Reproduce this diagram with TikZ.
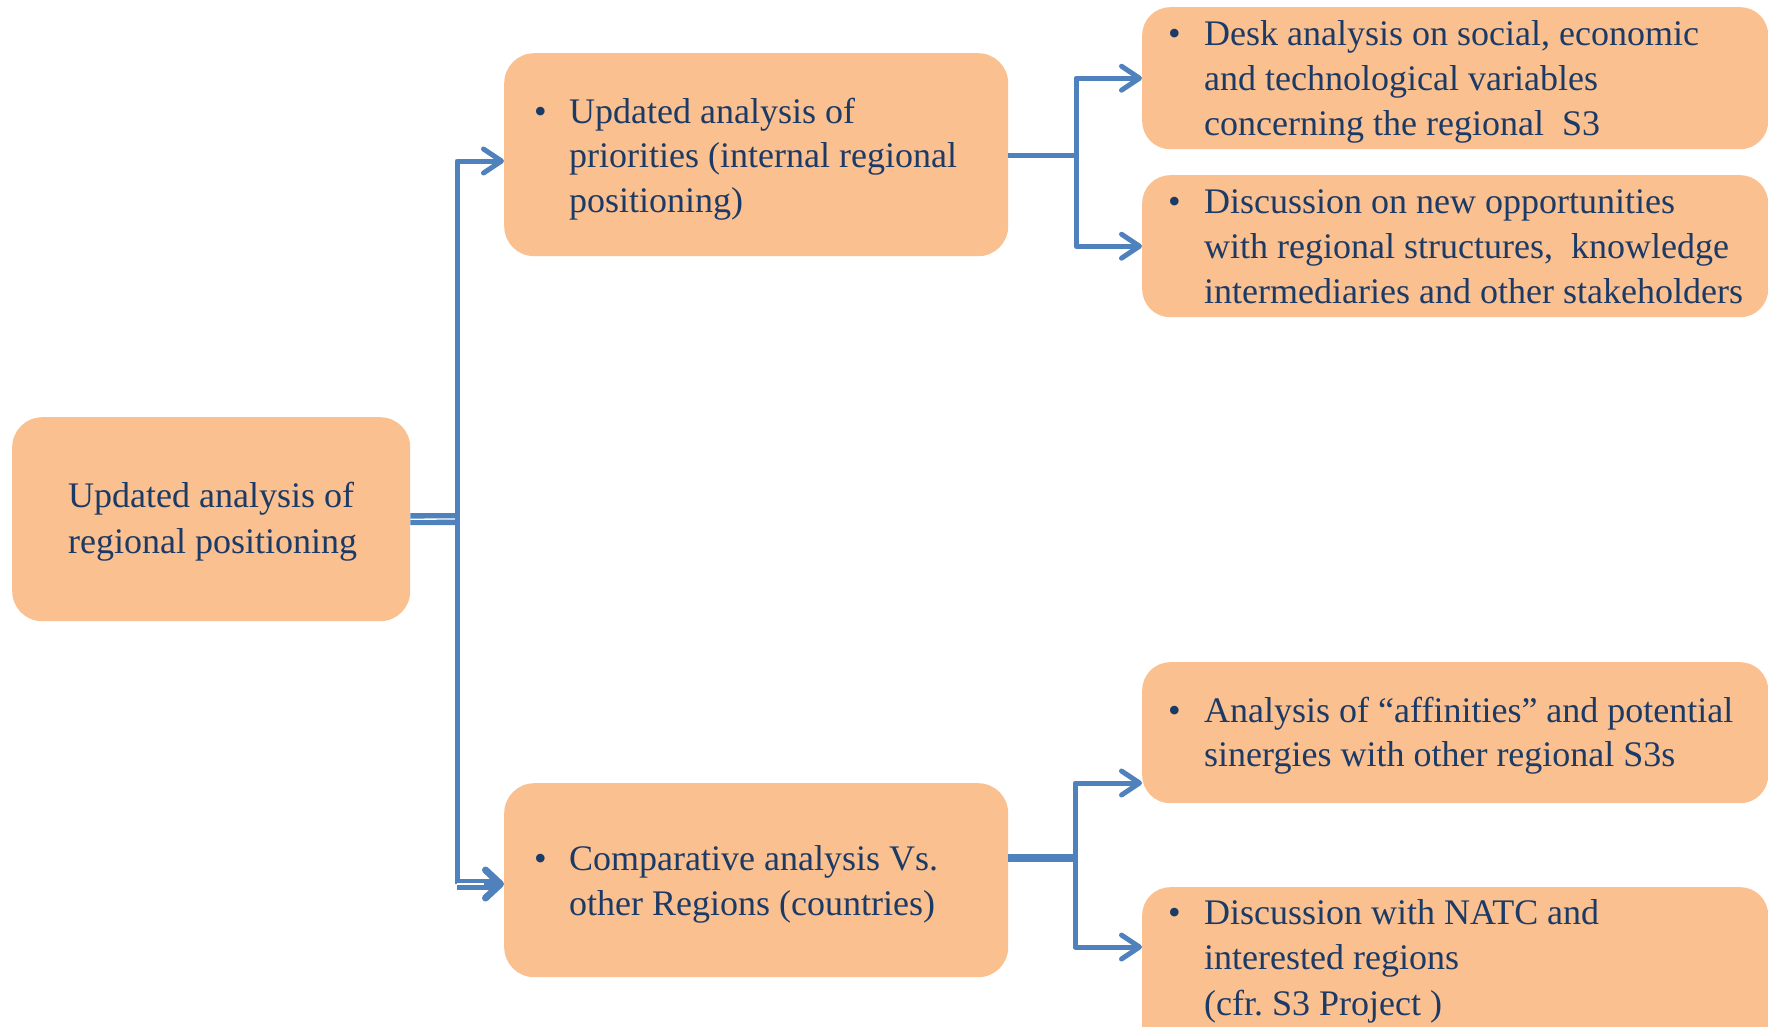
\documentclass[tikz,border=0pt]{standalone}
\usepackage{fontspec}
\setmainfont{Liberation Serif}
\usetikzlibrary{arrows.meta}
\definecolor{boxfill}{HTML}{FAC090}
\definecolor{txtc}{HTML}{1C3A66}
\definecolor{linec}{HTML}{4F81BD}
\frenchspacing
\begin{document}
\begin{tikzpicture}[x=1pt,y=-1pt,
  box/.style={fill=boxfill, rounded corners=30pt, inner sep=0pt, anchor=north west},
  tl/.style={anchor=base west, inner sep=0pt, text=txtc, font=\fontsize{36}{45}\selectfont},
  conn/.style={draw=linec, line width=5pt, line join=round},
  arr/.style={-{Straight Barb[length=18pt,width=24pt,round]}}
]
\useasboundingbox (0,0) rectangle (1768,1026);

% boxes
\node[box, minimum width=398pt, minimum height=204pt] (root) at (12,417) {};
\node[box, minimum width=504pt, minimum height=203pt] (um) at (504,53) {};
\node[box, minimum width=504pt, minimum height=194pt] (lm) at (504,783) {};
\node[box, minimum width=626pt, minimum height=142pt, rounded corners=28pt] (r1) at (1142,7) {};
\node[box, minimum width=626pt, minimum height=142pt, rounded corners=28pt] (r2) at (1142,175) {};
\node[box, minimum width=626pt, minimum height=141pt, rounded corners=28pt] (r3) at (1142,662) {};
\node[box, minimum width=626pt, minimum height=180pt, rounded corners=28pt] (r4) at (1142,887) {};

% texts
\node[tl] (t0a) at (68,507) {Updated analysis of};
\node[tl] (t0b) at (68,553) {regional positioning};

\node[tl] (b1) at (534,123) {•};
\node[tl] (t1a) at (569,123) {Updated analysis of};
\node[tl] (t1b) at (569,167) {priorities (internal regional};
\node[tl] (t1c) at (569,212) {positioning)};

\node[tl] (b2) at (534,870) {•};
\node[tl] (t2a) at (569,870) {Comparative analysis Vs.};
\node[tl] (t2b) at (569,915) {other Regions (countries)};

\node[tl] (b3) at (1168,45) {•};
\node[tl] (t3a) at (1204,45) {Desk analysis on social, economic};
\node[tl] (t3b) at (1204,90) {and technological variables};
\node[tl] (t3c) at (1204,135) {concerning the regional~ S3};

\node[tl] (b4) at (1168,213) {•};
\node[tl] (t4a) at (1204,213) {Discussion on new opportunities};
\node[tl] (t4b) at (1204,258) {with regional structures,~ knowledge};
\node[tl] (t4c) at (1204,303) {intermediaries and other stakeholders};

\node[tl] (b5) at (1168,722) {•};
\node[tl] (t5a) at (1204,722) {Analysis of “affinities” and potential};
\node[tl] (t5b) at (1204,766) {sinergies with other regional S3s};

\node[tl] (b6) at (1168,924) {•};
\node[tl] (t6a) at (1204,924) {Discussion with NATC and};
\node[tl] (t6b) at (1204,969) {interested regions};
\node[tl] (t6c) at (1204,1015) {(cfr. S3 Project )};

% connector points
\coordinate (j0) at (457,519);
\coordinate (tTop) at (457,161);
\coordinate (tBot) at (457,884);
\coordinate (tBotW) at (484,884);
\coordinate (j1) at (1076,155);
\coordinate (j2) at (1075,858);
\coordinate (a3) at (1075,783);
\coordinate (a4) at (1075,947);

% root to trunk (double line)
\draw[draw=linec, line width=12pt] (root.east) -- (j0);
\draw[draw=white, line width=1.3pt] (root.east) -- (j0);
% trunk and upper arrow
\draw[conn, arr] (tBot) |- (um.west |- tTop);
% lower double arrow
\draw[draw=linec, line width=11pt, -{Straight Barb[length=15pt,width=28pt,line width=7pt,round]}] (tBot) -- (lm.west |- tBot);
\draw[draw=white, line width=1.3pt] (tBot) -- (tBotW);

% upper middle to right
\draw[conn] (um.east |- j1) -- (j1);
\draw[conn, arr] (j1) |- (r1.west);
\draw[conn, arr] (j1) |- (r2.west);

% lower middle to right
\draw[conn, line width=8pt] (lm.east |- j2) -- (j2);
\draw[conn, arr] (j2) |- (r3.west |- a3);
\draw[conn, arr] (j2) |- (r4.west |- a4);
\end{tikzpicture}
\end{document}
